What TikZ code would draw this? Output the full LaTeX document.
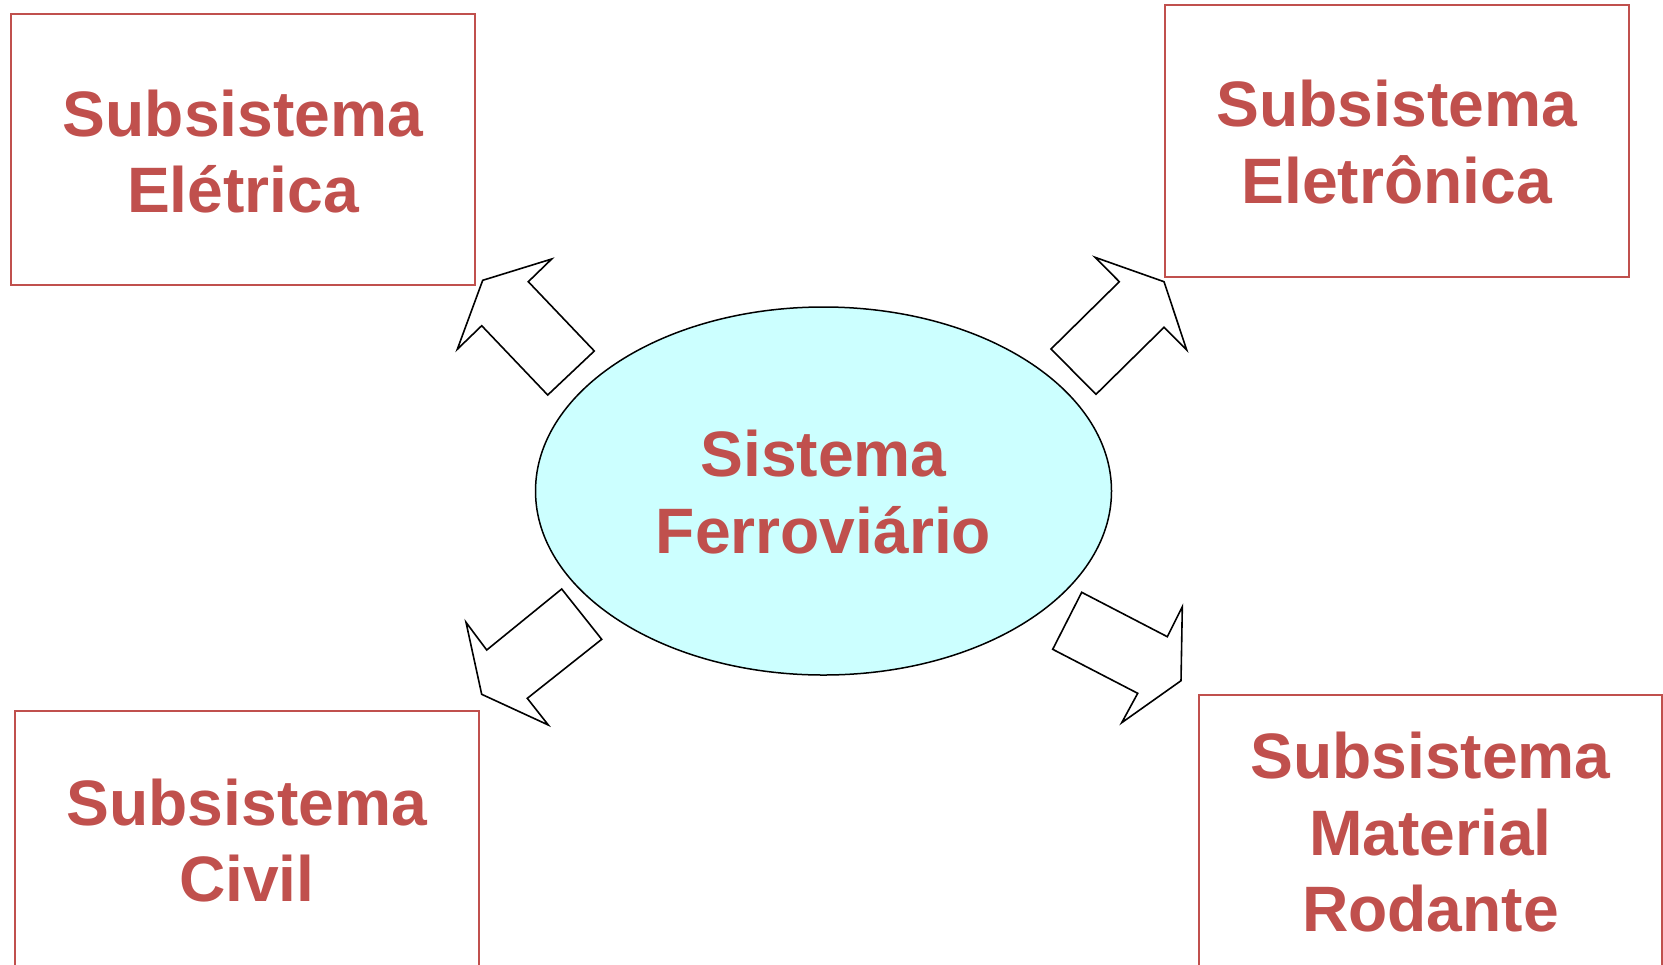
\documentclass[tikz,border=0pt]{standalone}
\usepackage{fontspec}
\setmainfont{Liberation Sans}
\usetikzlibrary{shapes.geometric}
\definecolor{redtxt}{RGB}{192,80,77}
\definecolor{cyanfill}{RGB}{204,255,255}
\begin{document}
\begin{tikzpicture}[x=0.5pt,y=-0.5pt,
  lbl/.style={align=center, text=redtxt, font=\bfseries\fontsize{32.1}{38.25}\selectfont, anchor=base, inner sep=0pt},
  subbox/.style={draw=redtxt, line width=1pt},
  blockarrow/.style={draw=black, fill=white, line width=0.8pt, line join=miter}]
\useasboundingbox (0,0) rectangle (1663,964);
\clip (0,0) rectangle (1663,964);

% subsystem boxes
\draw[subbox] (10.6,13.8) rectangle (475,285.3);
\draw[subbox] (1164.6,4.7) rectangle (1629,276.7);
\draw[subbox] (14.6,710.7) rectangle (479,970);
\draw[subbox] (1198.7,695) rectangle (1662.3,970);

% central ellipse
\node[ellipse, draw=black, line width=0.75pt, fill=cyanfill, minimum width=288pt, minimum height=184pt, inner sep=0pt] (sistema) at (823.5,491) {};

% labels (anchor = baseline of last line)
\node[lbl] (teletrica) at (243,212.7) {Subsistema\\El\'etrica};
\node[lbl] (teletronica) at (1396.8,203.3) {Subsistema\\Eletr\^onica};
\node[lbl] (tsistema) at (823.5,553.3) {Sistema\\Ferrovi\'ario};
\node[lbl] (tcivil) at (246.8,901.7) {Subsistema\\Civil};
\node[lbl] (tmaterial) at (1430.5,931.7) {Subsistema\\Material\\Rodante};

% block arrows
\draw[blockarrow] (482.7,280.3) -- (551.7,259) -- (528.3,281.7) -- (594.3,351) -- (547.7,395) -- (481.7,325.7) -- (457.3,349.3) -- cycle;
\draw[blockarrow] (1164,281.7) -- (1186.7,350) -- (1164,327.3) -- (1096,394.3) -- (1051,349) -- (1119.3,281.7) -- (1095,257.3) -- cycle;
\draw[blockarrow] (481.7,694.3) -- (466,622.3) -- (486.7,650) -- (561.7,589) -- (601.7,639.3) -- (527.3,698.3) -- (548.3,725) -- cycle;
\draw[blockarrow] (1181,680.7) -- (1121.7,722.7) -- (1137.7,693.3) -- (1052.7,649.3) -- (1081.7,592.3) -- (1167.3,636.7) -- (1182.3,606.7) -- cycle;
\end{tikzpicture}
\end{document}
